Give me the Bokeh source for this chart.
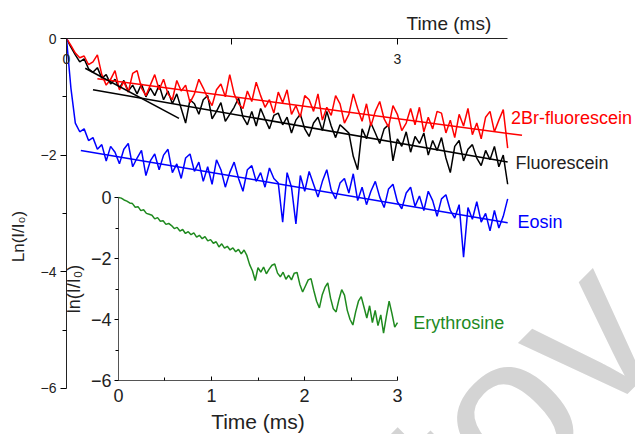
from bokeh.plotting import figure
from bokeh.models import Range1d, FixedTicker, Label, LinearAxis
from bokeh.embed import file_html
from bokeh.resources import INLINE

FONT = "Liberation Sans"

# ---------------- data ----------------
# main panel: time step 0.04 ms, 0 .. 4 ms
red_2br = [0.00, -0.12, -0.25, -0.33, -0.30, -0.45, -0.40, -0.28, -0.62, -0.80,
           -0.70, -0.55, -0.88, -0.74, -0.92, -0.60, -0.55, -0.85, -0.98, -0.80,
           -0.62, -0.88, -0.70, -0.95, -1.05, -0.72, -0.90, -0.80, -1.10, -0.95,
           -0.70, -0.85, -1.02, -1.15, -0.88, -0.78, -1.00, -0.62, -0.95, -1.12,
           -1.20, -0.90, -1.08, -0.75, -0.98, -1.18, -1.05, -1.28, -0.92, -1.10,
           -0.88, -1.30, -1.15, -1.35, -0.98, -1.05, -1.25, -0.95, -1.40, -1.18,
           -1.32, -0.98, -1.12, -1.45, -1.30, -0.95, -1.20, -1.42, -1.12, -1.50,
           -1.25, -1.08, -1.38, -1.52, -1.15, -1.30, -1.58, -1.45, -1.20, -1.48,
           -1.18, -1.60, -1.35, -1.55, -1.25, -1.28, -1.62, -1.40, -1.70, -1.30,
           -1.50, -1.20, -1.65, -1.45, -1.72, -1.35, -1.25, -1.60, -1.40, -1.22,
           -1.88]
fluorescein = [0.00, -0.15, -0.28, -0.40, -0.35, -0.52, -0.58, -0.50, -0.68, -0.62,
               -0.78, -0.70, -0.85, -0.72, -0.90, -0.80, -0.95, -0.78, -1.00, -0.85,
               -0.98, -0.80, -1.05, -0.90, -1.12, -0.95, -1.20, -1.45, -1.05, -1.12,
               -1.30, -1.05, -0.98, -1.38, -1.25, -1.10, -1.42, -1.30, -1.18, -1.02,
               -1.35, -1.48, -1.25, -1.50, -1.20, -1.38, -1.55, -1.32, -1.28, -1.48,
               -1.35, -1.62, -1.40, -1.30, -1.55, -1.68, -1.45, -1.35, -1.58, -1.25,
               -1.50, -1.70, -1.48, -1.55, -1.62, -2.02, -2.25, -1.55, -1.72, -1.45,
               -1.62, -1.80, -1.55, -1.48, -2.10, -1.72, -1.85, -1.60, -1.95, -1.68,
               -1.80, -1.62, -2.00, -1.75, -1.92, -1.70, -2.05, -2.30, -1.85, -1.75,
               -2.10, -1.90, -1.82, -2.05, -2.18, -1.92, -2.08, -1.85, -2.20, -2.00,
               -2.50]
eosin = [0.00, -0.85, -1.45, -1.60, -1.55, -1.75, -1.70, -1.90, -1.82, -2.10,
         -1.85, -1.95, -2.15, -1.90, -1.80, -2.20, -2.05, -1.92, -2.35, -2.10,
         -1.98, -2.25, -2.00, -1.90, -2.30, -2.15, -2.40, -2.05, -1.98, -2.28,
         -2.12, -2.45, -2.20, -2.50, -2.08, -2.25, -2.55, -2.30, -2.12, -2.40,
         -2.62, -2.25, -2.18, -2.45, -2.30, -2.55, -2.22, -2.40, -2.48, -3.15,
         -2.30, -2.55, -3.18, -2.35, -2.62, -2.28, -2.50, -2.72, -2.45, -2.25,
         -2.60, -2.75, -2.48, -2.40, -2.65, -2.32, -2.78, -2.55, -2.85, -2.62,
         -2.45, -2.72, -2.90, -2.58, -2.50, -2.80, -2.92, -2.65, -2.55, -2.88,
         -2.70, -2.95, -2.62, -2.78, -3.05, -2.75, -2.68, -2.95, -3.08, -2.85,
         -3.75, -2.90, -3.10, -2.80, -3.15, -3.00, -3.30, -2.95, -3.25, -3.05,
         -2.75]
t_main = [round(i * 0.04, 2) for i in range(len(eosin))]

# linear fits (start / end points)
red_fit_t, red_fit_y = [0.28, 4.13], [-0.69, -1.66]
blk_fit1_t, blk_fit1_y = [0.17, 1.02], [-0.51, -1.37]
blk_fit2_t, blk_fit2_y = [0.24, 4.00], [-0.88, -2.12]
blue_fit_t, blue_fit_y = [0.13, 4.00], [-1.92, -3.16]

# inset: time step 0.03 ms, 0 .. 3 ms
erythrosine = [0.00, -0.02, -0.08, -0.12, -0.18, -0.20, -0.32, -0.30, -0.43, -0.40,
               -0.52, -0.55, -0.58, -0.70, -0.66, -0.78, -0.76, -0.88, -0.85, -0.92,
               -1.02, -0.98, -1.10, -1.05, -1.18, -1.12, -1.22, -1.16, -1.30, -1.24,
               -1.35, -1.28, -1.42, -1.38, -1.50, -1.45, -1.62, -1.52, -1.66, -1.60,
               -1.72, -1.65, -1.78, -1.70, -1.85, -1.72, -1.90, -2.20, -2.40, -2.72,
               -2.30, -2.45, -2.28, -2.50, -2.35, -2.22, -2.18, -2.48, -2.60, -2.45,
               -2.68, -2.55, -2.70, -2.48, -2.46, -2.85, -3.10, -2.90, -2.70, -2.66,
               -3.05, -3.40, -3.62, -3.20, -2.95, -2.80, -3.30, -3.65, -3.75, -3.35,
               -3.02, -3.20, -3.70, -4.00, -4.18, -3.75, -3.40, -3.25, -3.60, -3.95,
               -3.55, -4.10, -3.70, -4.20, -3.85, -4.45, -3.90, -3.40, -3.80, -4.25,
               -4.10]
t_inset = [round(i * 0.03, 2) for i in range(len(erythrosine))]

main_x_ticks, main_x_minor = [0, 3], [1.5]
main_y_ticks, main_y_minor = [0, -2, -4, -6], [-1, -3, -5]
inset_x_ticks, inset_x_minor = [0, 1, 2, 3], [0.5, 1.5, 2.5]
inset_y_ticks, inset_y_minor = [0, -2, -4, -6], [-1, -3, -5]

RED, BLACK, BLUE, GREEN = "#ff0000", "#000000", "#0000ff", "#1f8a1f"
INK = "#222222"

# ---------------- figure ----------------
# the frame covers everything right of / below the axes; the axes themselves use bounds
p = figure(width=635, height=434, x_range=Range1d(0, 5.159), y_range=Range1d(-6.792, 0),
           x_axis_location="above", output_backend="svg", toolbar_location=None,
           min_border_left=66, min_border_right=0, min_border_top=38, min_border_bottom=0)
p.outline_line_color = None
p.xgrid.visible = False
p.ygrid.visible = False

# inset coordinate system on the same canvas
p.extra_x_ranges = {"ix": Range1d(-0.5591, 5.559)}
p.extra_y_ranges = {"iy": Range1d(-7.770, 5.213)}

# watermark
p.add_layout(Label(x=4.11, y=-6.14, text="tov", angle=45, angle_units="deg",
                   text_font=FONT, text_font_size="215px", text_color="#d4d4d4",
                   text_align="center", text_baseline="middle", level="underlay"))

p.line(t_main, fluorescein, line_color=BLACK, line_width=1.5)
p.line(t_main, red_2br, line_color=RED, line_width=1.5)
p.line(t_main, eosin, line_color=BLUE, line_width=1.5)
p.line(red_fit_t, red_fit_y, line_color=RED, line_width=1.5)
p.line(blk_fit1_t, blk_fit1_y, line_color=BLACK, line_width=1.5)
p.line(blk_fit2_t, blk_fit2_y, line_color=BLACK, line_width=1.5)
p.line(blue_fit_t, blue_fit_y, line_color=BLUE, line_width=1.5)
p.line(t_inset, erythrosine, line_color=GREEN, line_width=1.5,
       x_range_name="ix", y_range_name="iy")

# top axis of the main panel
xa = p.xaxis[0]
xa.ticker = FixedTicker(ticks=main_x_ticks, minor_ticks=main_x_minor)
xa.bounds = (0, 4)
xa.major_tick_in, xa.major_tick_out = 6, 0
xa.minor_tick_in, xa.minor_tick_out = 6, 0
xa.major_label_standoff = -25
xa.major_label_text_font = FONT
xa.major_label_text_font_size = "14px"
xa.major_label_text_color = INK
xa.axis_line_color = INK

p.title.text = "Time (ms)"
p.title.align = "left"
p.title.offset = 340
p.title.text_font = FONT
p.title.text_font_size = "19px"
p.title.text_font_style = "normal"
p.title.text_color = INK
p.title.standoff = 10

ya = p.yaxis[0]
ya.ticker = FixedTicker(ticks=main_y_ticks, minor_ticks=main_y_minor)
ya.bounds = (-6, 0)
ya.major_tick_in, ya.major_tick_out = 0, 6
ya.minor_tick_in, ya.minor_tick_out = 0, 4
ya.major_label_standoff = 4
ya.major_label_text_font = FONT
ya.major_label_text_font_size = "14px"
ya.major_label_text_color = INK
ya.axis_label = "Ln(I/I\u2080)"
ya.axis_label_standoff = 10
ya.axis_label_text_font = FONT
ya.axis_label_text_font_size = "17px"
ya.axis_label_text_font_style = "normal"
ya.axis_label_text_color = INK
ya.axis_line_color = INK

# inset axes, fixed inside the frame
qx = LinearAxis(x_range_name="ix", y_range_name="iy", fixed_location=-6, bounds=(0, 3),
                ticker=FixedTicker(ticks=inset_x_ticks, minor_ticks=inset_x_minor))
qx.major_tick_in, qx.major_tick_out = 4, 0
qx.minor_tick_in, qx.minor_tick_out = 3, 0
qx.major_label_standoff = 8
qx.major_label_text_font = FONT
qx.major_label_text_font_size = "18px"
qx.major_label_text_color = INK
qx.axis_label = "Time (ms)"
qx.axis_label_standoff = 5
qx.axis_label_text_font = FONT
qx.axis_label_text_font_size = "21px"
qx.axis_label_text_font_style = "normal"
qx.axis_label_text_color = INK
qx.axis_line_color = "#555555"
p.add_layout(qx, "below")

qy = LinearAxis(x_range_name="ix", y_range_name="iy", fixed_location=0, bounds=(-6, 0),
                ticker=FixedTicker(ticks=inset_y_ticks, minor_ticks=inset_y_minor))
qy.major_tick_in, qy.major_tick_out = 0, 4
qy.minor_tick_in, qy.minor_tick_out = 0, 3
qy.major_label_standoff = 3
qy.major_label_text_font = FONT
qy.major_label_text_font_size = "18px"
qy.major_label_text_color = INK
qy.axis_label = "ln(I/I\u2080)"
qy.axis_label_standoff = 4
qy.axis_label_text_font = FONT
qy.axis_label_text_font_size = "18px"
qy.axis_label_text_font_style = "normal"
qy.axis_label_text_color = INK
qy.axis_line_color = "#555555"
p.add_layout(qy, "left")

# series names
lab_kw = dict(text_font=FONT, text_font_size="18px", text_baseline="middle", text_align="left")
p.add_layout(Label(x=4.03, y=-1.37, text="2Br-fluorescein", text_color=RED, **lab_kw))
p.add_layout(Label(x=4.07, y=-2.13, text="Fluorescein", text_color=INK, **lab_kw))
p.add_layout(Label(x=4.09, y=-3.14, text="Eosin", text_color=BLUE, **lab_kw))
p.add_layout(Label(x=3.17, y=-4.10, text="Erythrosine", text_color=GREEN,
                   x_range_name="ix", y_range_name="iy", **lab_kw))

open("out.html", "w").write(file_html(p, INLINE))
